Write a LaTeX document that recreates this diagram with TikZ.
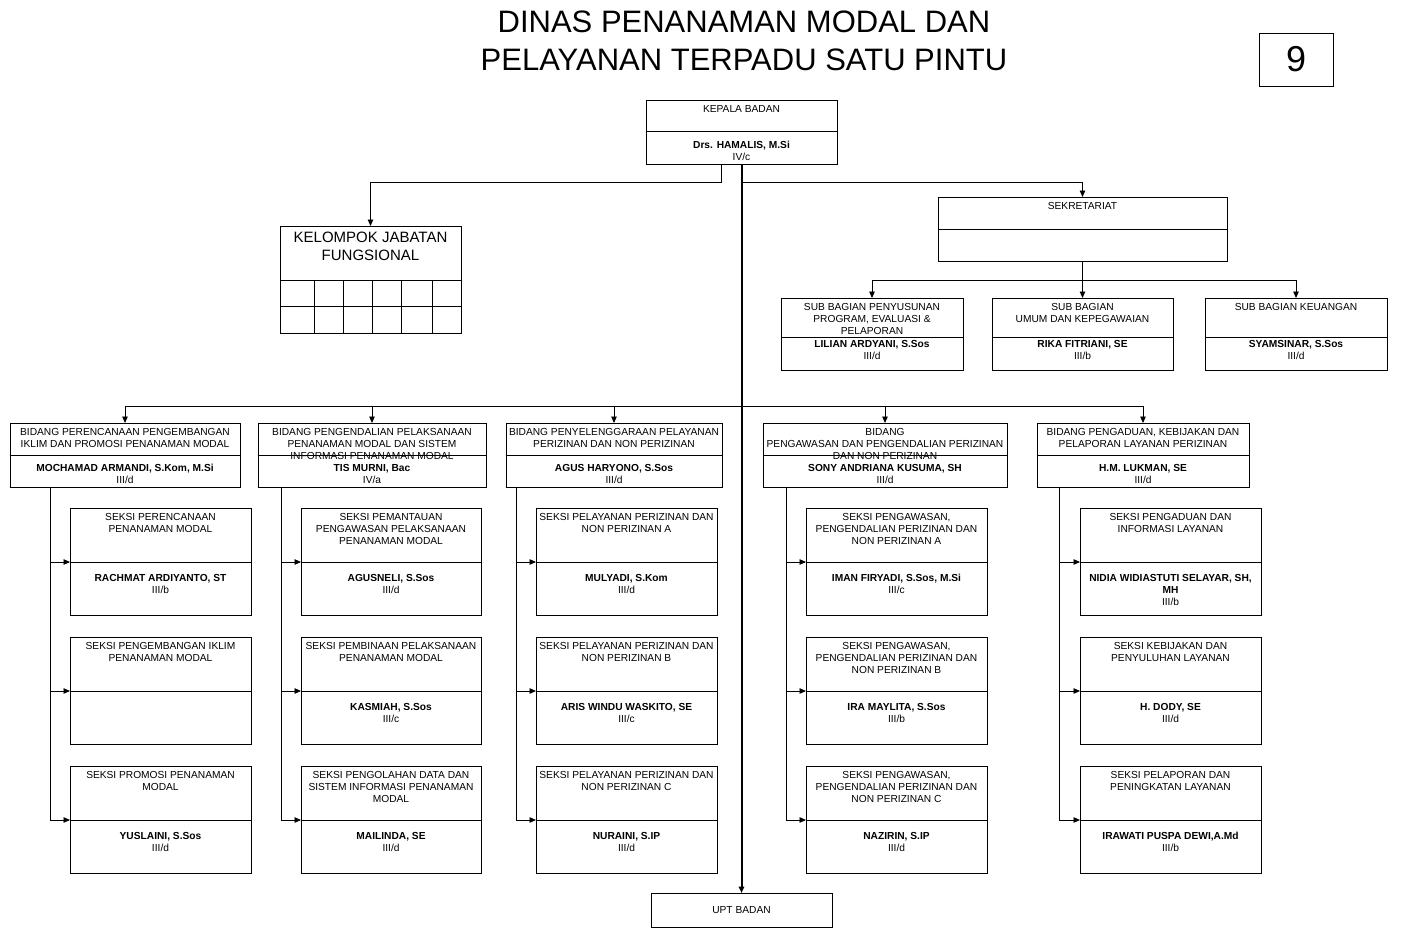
\documentclass[tikz,border=0pt]{standalone}
\usepackage{fontspec}
\setmainfont{Liberation Sans}
\usetikzlibrary{arrows.meta}
\tikzset{
>={Triangle[length=6.5pt,width=5.5pt]},
  kotak/.style={
    rectangle,
    draw=black, line width=0.9pt,
    inner sep=0pt, outer sep=0pt,
    font=\fontsize{10.2}{12}\selectfont},
  judul/.style={anchor=north, inner sep=0pt, align=center,
    font=\fontsize{10.2}{12}\selectfont},
  nama/.style={judul},
  garis/.style={draw, line width=0.9pt},
  batang/.style={draw, line width=2pt},
}
% box with a title part and a name part
\newcommand{\jabatan}[9]{%
  \node[kotak, minimum width={(#4-#2)*1pt}, minimum height={(#5-#3)*1pt}]
    (#1) at ({(#2+#4)/2},{(#3+#5)/2}) {};
  \coordinate (#1-bagi) at (#2,#6);
  \draw[garis] (#1-bagi) -- (#4,#6);
  \node[judul] (#1-judul) at ({(#2+#4)/2},#3+5) {#7};
  \node[nama] (#1-nama) at ({(#2+#4)/2},#8-3) {#9};
}

\begin{document}
\begin{tikzpicture}[x=1pt,y=-1pt]
  \useasboundingbox (0,0) rectangle (1405,938);
  \node[anchor=north, align=center, inner sep=0pt,
    font=\fontsize{31}{38}\selectfont] (kop) at (744,11)
    {DINAS PENANAMAN MODAL DAN\\PELAYANAN TERPADU SATU PINTU};
  \node[kotak, minimum width=74pt, minimum height=53pt,
    font=\fontsize{36}{40}\selectfont] (nomor) at (1296,59.5) {9};
  % top level
  \jabatan{kepala}{646}{100}{837}{164}{131}{KEPALA BADAN}{144}
    {\textbf{Drs. HAMALIS, M.Si}\\IV/c}
  \node[kotak, minimum width=181pt, minimum height=107pt] (kelompok) at (370.5,279.5) {};
  \node[judul, font=\fontsize{15}{18}\selectfont] (kelompok-judul) at (370.5,232)
    {KELOMPOK JABATAN\\FUNGSIONAL};
  \draw[garis] (280,280) -- (461,280) (280,306) -- (461,306)
    (314,280) -- (314,333) (343,280) -- (343,333) (372,280) -- (372,333)
    (401,280) -- (401,333) (432,280) -- (432,333);
  \jabatan{sekretariat}{938}{197}{1227}{261}{229}{SEKRETARIAT}{245}{}
  %% sub bagian
  \jabatan{subprogram}{781}{298}{963}{370}{337}
    {SUB BAGIAN PENYUSUNAN\\PROGRAM, EVALUASI \&\\PELAPORAN}{343}
    {\textbf{LILIAN ARDYANI, S.Sos}\\III/d}
  \jabatan{subumum}{992}{298}{1173}{370}{337}
    {SUB BAGIAN\\UMUM DAN KEPEGAWAIAN}{343}
    {\textbf{RIKA FITRIANI, SE}\\III/b}
  \jabatan{subkeuangan}{1205}{298}{1387}{370}{337}
    {SUB BAGIAN KEUANGAN}{343}
    {\textbf{SYAMSINAR, S.Sos}\\III/d}
  % bidang
  \jabatan{b1}{10}{423}{240}{487}{455}
    {BIDANG PERENCANAAN PENGEMBANGAN\\IKLIM DAN PROMOSI PENANAMAN MODAL}{467}
    {\textbf{MOCHAMAD ARMANDI, S.Kom, M.Si}\\III/d}
  \jabatan{b2}{258}{423}{486}{487}{455}
    {BIDANG PENGENDALIAN PELAKSANAAN\\PENANAMAN MODAL DAN SISTEM\\INFORMASI PENANAMAN MODAL}{467}
    {\textbf{TIS MURNI, Bac}\\IV/a}
  \jabatan{b3}{506}{423}{722}{487}{455}
    {BIDANG PENYELENGGARAAN PELAYANAN\\PERIZINAN DAN NON PERIZINAN}{467}
    {\textbf{AGUS HARYONO, S.Sos}\\III/d}
  \jabatan{b4}{763}{423}{1007}{487}{455}
    {BIDANG\\PENGAWASAN DAN PENGENDALIAN PERIZINAN\\DAN NON PERIZINAN}{467}
    {\textbf{SONY ANDRIANA KUSUMA, SH}\\III/d}
  \jabatan{b5}{1037}{423}{1249}{487}{455}
    {BIDANG PENGADUAN, KEBIJAKAN DAN\\PELAPORAN LAYANAN PERIZINAN}{467}
    {\textbf{H.M. LUKMAN, SE}\\III/d}
  % seksi, column 1
  \jabatan{s11}{70}{508}{251}{615}{562}
    {SEKSI PERENCANAAN\\PENANAMAN MODAL}{577}
    {\textbf{RACHMAT ARDIYANTO, ST}\\III/b}
  \jabatan{s12}{70}{637}{251}{744}{691}
    {SEKSI PENGEMBANGAN IKLIM\\PENANAMAN MODAL}{706}{}
  \jabatan{s13}{70}{766}{251}{873}{820}
    {SEKSI PROMOSI PENANAMAN\\MODAL}{835}
    {\textbf{YUSLAINI, S.Sos}\\III/d}
  %% column 2
  \jabatan{s21}{301}{508}{481}{615}{562}
    {SEKSI PEMANTAUAN\\PENGAWASAN PELAKSANAAN\\PENANAMAN MODAL}{577}
    {\textbf{AGUSNELI, S.Sos}\\III/d}
  \jabatan{s22}{301}{637}{481}{744}{691}
    {SEKSI PEMBINAAN PELAKSANAAN\\PENANAMAN MODAL}{706}
    {\textbf{KASMIAH, S.Sos}\\III/c}
  \jabatan{s23}{301}{766}{481}{873}{820}
    {SEKSI PENGOLAHAN DATA DAN\\SISTEM INFORMASI PENANAMAN\\MODAL}{835}
    {\textbf{MAILINDA, SE}\\III/d}
  %% column 3
  \jabatan{s31}{536}{508}{717}{615}{562}
    {SEKSI PELAYANAN PERIZINAN DAN\\NON PERIZINAN A}{577}
    {\textbf{MULYADI, S.Kom}\\III/d}
  \jabatan{s32}{536}{637}{717}{744}{691}
    {SEKSI PELAYANAN PERIZINAN DAN\\NON PERIZINAN B}{706}
    {\textbf{ARIS WINDU WASKITO, SE}\\III/c}
  \jabatan{s33}{536}{766}{717}{873}{820}
    {SEKSI PELAYANAN PERIZINAN DAN\\NON PERIZINAN C}{835}
    {\textbf{NURAINI, S.IP}\\III/d}
  %% column 4
  \jabatan{s41}{806}{508}{987}{615}{562}
    {SEKSI PENGAWASAN,\\PENGENDALIAN PERIZINAN DAN\\NON PERIZINAN A}{577}
    {\textbf{IMAN FIRYADI, S.Sos, M.Si}\\III/c}
  \jabatan{s42}{806}{637}{987}{744}{691}
    {SEKSI PENGAWASAN,\\PENGENDALIAN PERIZINAN DAN\\NON PERIZINAN B}{706}
    {\textbf{IRA MAYLITA, S.Sos}\\III/b}
  \jabatan{s43}{806}{766}{987}{873}{820}
    {SEKSI PENGAWASAN,\\PENGENDALIAN PERIZINAN DAN\\NON PERIZINAN C}{835}
    {\textbf{NAZIRIN, S.IP}\\III/d}
  %% column 5
  \jabatan{s51}{1080}{508}{1261}{615}{562}
    {SEKSI PENGADUAN DAN\\INFORMASI LAYANAN}{577}
    {\textbf{NIDIA WIDIASTUTI SELAYAR, SH,}\\\textbf{MH}\\III/b}
  \jabatan{s52}{1080}{637}{1261}{744}{691}
    {SEKSI KEBIJAKAN DAN\\PENYULUHAN LAYANAN}{706}
    {\textbf{H. DODY, SE}\\III/d}
  \jabatan{s53}{1080}{766}{1261}{873}{820}
    {SEKSI PELAPORAN DAN\\PENINGKATAN LAYANAN}{835}
    {\textbf{IRAWATI PUSPA DEWI,A.Md}\\III/b}
  \node[kotak, minimum width=181pt, minimum height=34pt] (upt) at (741.5,910) {UPT BADAN};
  % connectors
  \draw[garis,->] ([xshift=-20.5pt]kepala.south) -- ++(0,18) -| (kelompok.north);
  \coordinate (cabang atas) at (741.5,182);
  \draw[garis,->] (cabang atas) -| (sekretariat.north);
  \coordinate (cabang sekretariat) at (1082.5,280);
  \draw[garis] (sekretariat.south) -- (cabang sekretariat);
  \draw[garis,->] (cabang sekretariat) -| (subprogram.north);
  \draw[garis,->] (cabang sekretariat) -- (subumum.north);
  \draw[garis,->] (cabang sekretariat) -| (subkeuangan.north);
  \coordinate (cabang bidang) at (741.5,406);
  \draw[garis,->] (cabang bidang) -| (b1.north);
  \draw[garis,->] (cabang bidang) -| (b2.north);
  \draw[garis,->] (cabang bidang) -| (b3.north);
  \draw[garis,->] (cabang bidang) -| (b4.north);
  \draw[garis,->] (cabang bidang) -| (b5.north);
  %% bidang to seksi
  \draw[garis,->] ([xshift=-75pt]b1.south) |- (s11-bagi);
  \draw[garis,->] ([xshift=-75pt]b1.south) |- (s12-bagi);
  \draw[garis,->] ([xshift=-75pt]b1.south) |- (s13-bagi);
  \draw[garis,->] ([xshift=-91pt]b2.south) |- (s21-bagi);
  \draw[garis,->] ([xshift=-91pt]b2.south) |- (s22-bagi);
  \draw[garis,->] ([xshift=-91pt]b2.south) |- (s23-bagi);
  \draw[garis,->] ([xshift=-98pt]b3.south) |- (s31-bagi);
  \draw[garis,->] ([xshift=-98pt]b3.south) |- (s32-bagi);
  \draw[garis,->] ([xshift=-98pt]b3.south) |- (s33-bagi);
  \draw[garis,->] ([xshift=-99pt]b4.south) |- (s41-bagi);
  \draw[garis,->] ([xshift=-99pt]b4.south) |- (s42-bagi);
  \draw[garis,->] ([xshift=-99pt]b4.south) |- (s43-bagi);
  \draw[garis,->] ([xshift=-84pt]b5.south) |- (s51-bagi);
  \draw[garis,->] ([xshift=-84pt]b5.south) |- (s52-bagi);
  \draw[garis,->] ([xshift=-84pt]b5.south) |- (s53-bagi);
  % main line down to UPT
  \draw[batang,->] (kepala.south) -- (upt.north);
\end{tikzpicture}
\end{document}
